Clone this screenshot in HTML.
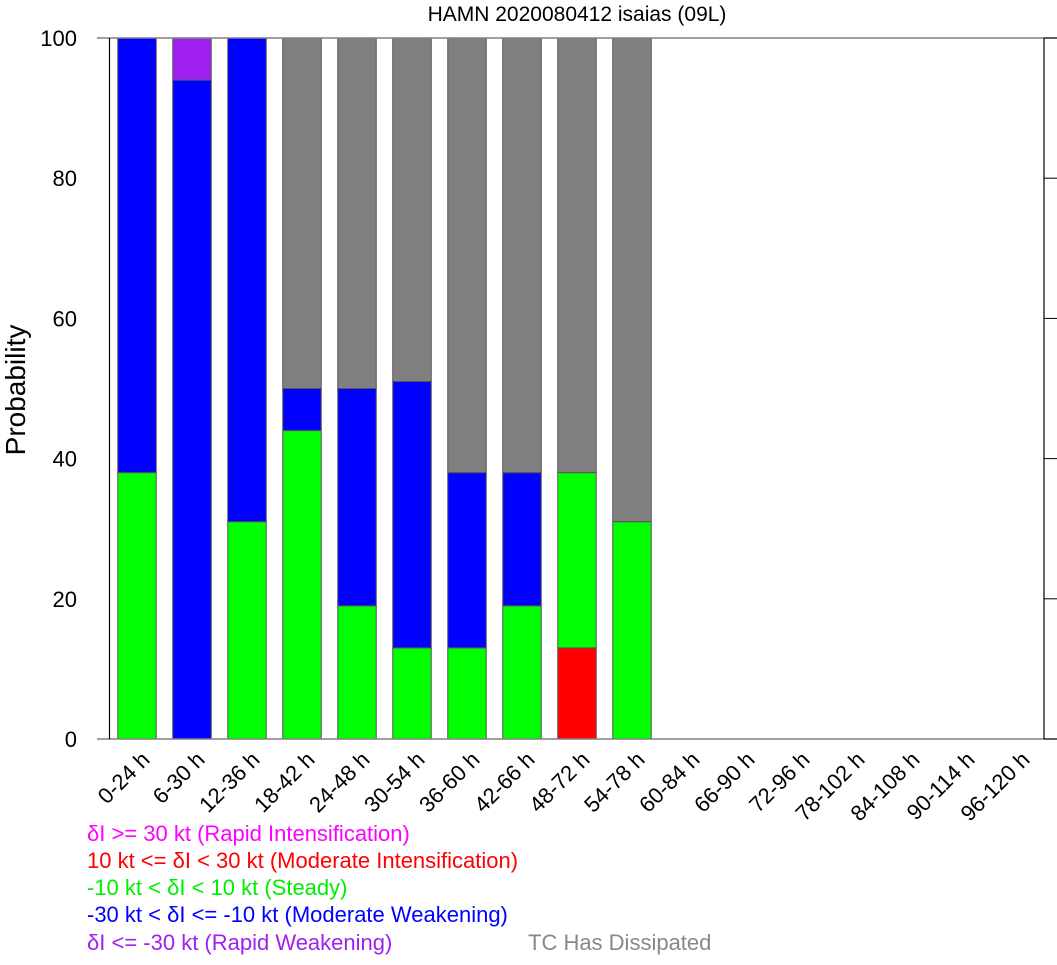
<!DOCTYPE html>
<html><head><meta charset="utf-8"><style>
body{margin:0;background:#fff}
svg text{font-family:"Liberation Sans",Arial,sans-serif}
</style></head><body>
<svg id="chart" width="1057" height="960" xmlns="http://www.w3.org/2000/svg">
<text x="577" y="21" font-size="21" text-anchor="middle">HAMN 2020080412 isaias (09L)</text>
<text transform="translate(25,390) rotate(-90)" font-size="28" text-anchor="middle">Probability</text>
<g id="bars"></g>
<g id="axes"></g>
<g font-size="22">
<text x="87" y="841" fill="#ff00ff">δI &gt;= 30 kt (Rapid Intensification)</text>
<text x="87" y="868" fill="#ff0000">10 kt &lt;= δI &lt; 30 kt (Moderate Intensification)</text>
<text x="87" y="895" fill="#00ee00">-10 kt &lt; δI &lt; 10 kt (Steady)</text>
<text x="87" y="922" fill="#0000ff">-30 kt &lt; δI &lt;= -10 kt (Moderate Weakening)</text>
<text x="87" y="950" fill="#a020f0">δI &lt;= -30 kt (Rapid Weakening)</text>
<text x="528" y="950" fill="#888">TC Has Dissipated</text>
</g>
</svg>
<script>
const categories=["0-24 h","6-30 h","12-36 h","18-42 h","24-48 h","30-54 h","36-60 h","42-66 h","48-72 h","54-78 h","60-84 h","66-90 h","72-96 h","78-102 h","84-108 h","90-114 h","96-120 h"];
const rapidInt=[0,0,0,0,0,0,0,0,0,0,0,0,0,0,0,0,0];
const modInt=[0,0,0,0,0,0,0,0,13,0,0,0,0,0,0,0,0];
const steady=[38,0,31,44,19,13,13,19,25,31,0,0,0,0,0,0,0];
const modWeak=[62,94,69,6,31,38,25,19,0,0,0,0,0,0,0,0,0];
const rapidWeak=[0,6,0,0,0,0,0,0,0,0,0,0,0,0,0,0,0];
const dissipated=[0,0,0,50,50,49,62,62,62,69,0,0,0,0,0,0,0];
const yTicks=[0,20,40,60,80,100];
const NS="http://www.w3.org/2000/svg";
const L=109.5,R=1044,T=38,B=739;
const y=v=>B-(v/100)*(B-T);
const x=i=>137+i*55;
const BW=38.5;
function mk(tag,attrs,parent){const e=document.createElementNS(NS,tag);for(const k in attrs)e.setAttribute(k,attrs[k]);parent.appendChild(e);return e;}
const bars=document.getElementById('bars'),axes=document.getElementById('axes');
const series=[["rapid-int",rapidInt,"#ff00ff"],["mod-int",modInt,"#ff0000"],["steady",steady,"#00ff00"],["mod-weak",modWeak,"#0000ff"],["rapid-weak",rapidWeak,"#a020f0"],["dissipated",dissipated,"#808080"]];
categories.forEach((c,i)=>{
  let base=0;
  series.forEach(([nm,arr,col])=>{
    const v=arr[i];if(!v)return;
    const r=mk('rect',{x:x(i)-BW/2,y:y(base+v),width:BW,height:y(base)-y(base+v),fill:col,stroke:"#555","stroke-width":1},bars);
    
    
    base+=v;
  });
  const t=mk('text',{transform:`translate(${x(i)+14},${B+22}) rotate(-45)`,"font-size":22,"text-anchor":"end"},axes);
  
  
  t.textContent=c;
});
let l=mk('line',{x1:97,x2:1057,y1:T,y2:T,stroke:"#808080","stroke-width":1.5},axes);

l=mk('line',{x1:97,x2:1057,y1:B,y2:B,stroke:"#808080","stroke-width":1.5},axes);

l=mk('line',{x1:L,x2:L,y1:T,y2:B,stroke:"#000","stroke-width":1.2},axes);

l=mk('line',{x1:R,x2:R,y1:T,y2:B,stroke:"#000","stroke-width":1.2},axes);

yTicks.forEach(v=>{
  const tk=mk('line',{x1:R,x2:1057,y1:y(v),y2:y(v),stroke:"#000","stroke-width":1},axes);
  
  
  const t=mk('text',{x:77,y:y(v)+8,"font-size":22,"text-anchor":"end"},axes);
  
  
  t.textContent=v;
});
</script>
</body></html>
